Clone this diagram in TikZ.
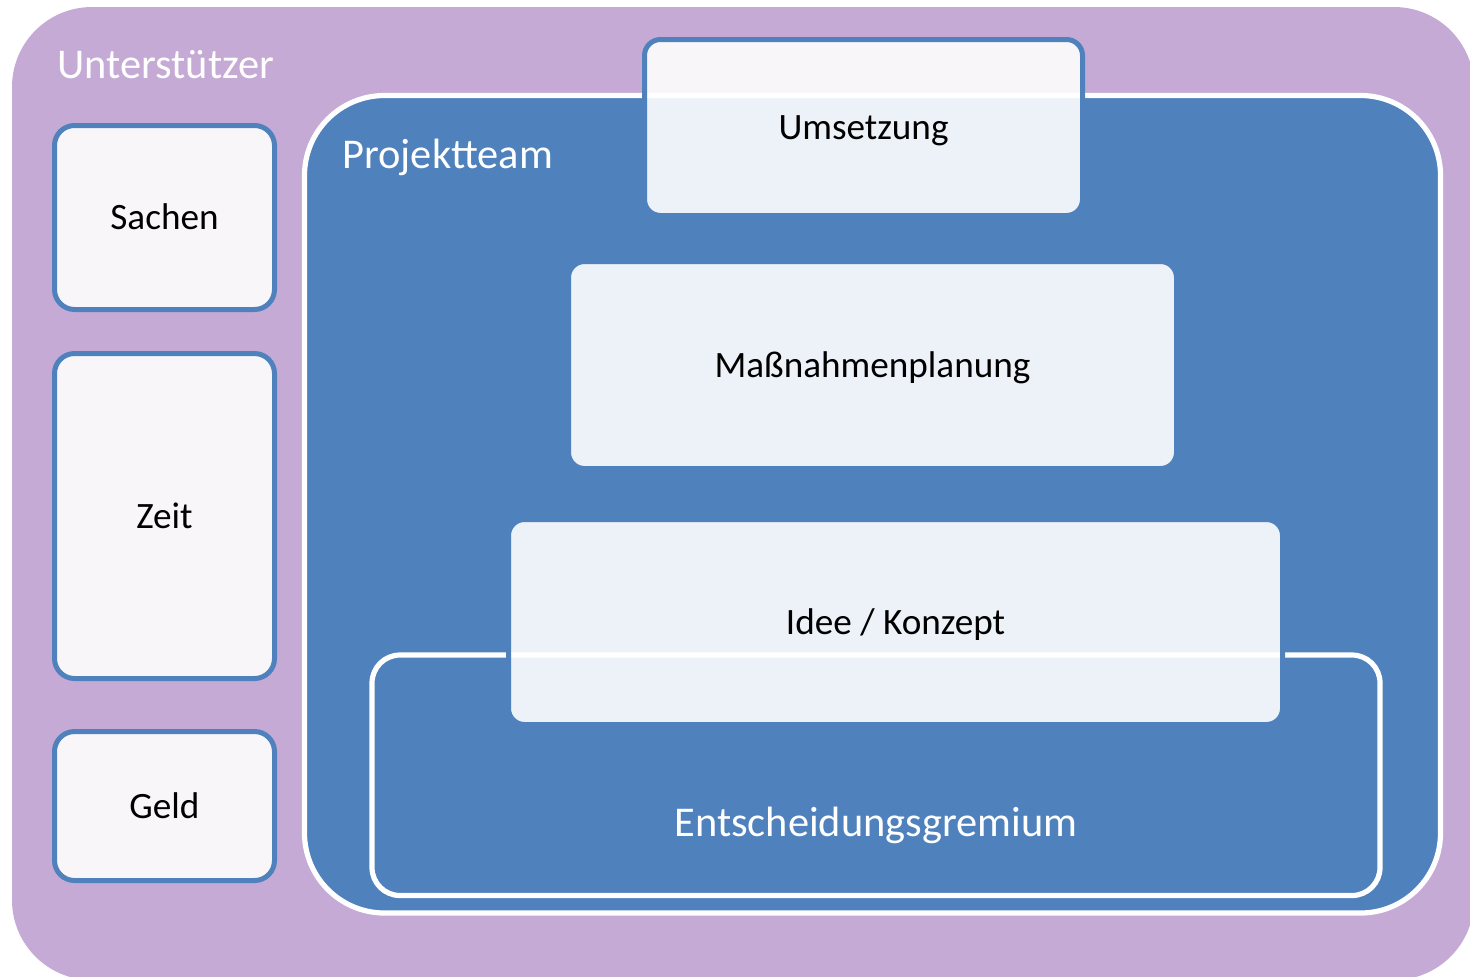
\documentclass[tikz,border=0pt]{standalone}
\usepackage{fontspec}
\setmainfont{Carlito}
\definecolor{supporter}{RGB}{197,170,214}
\definecolor{teamblue}{RGB}{79,129,189}
\newcommand{\labelfont}{\fontsize{18.6}{22}\selectfont}
\newcommand{\titlefont}{\fontsize{21.2}{25}\selectfont}
\begin{document}
\begin{tikzpicture}[x=0.5pt,y=-0.5pt,
  panel/.style={draw=teamblue, line width=2.5pt, fill=white, fill opacity=0.9,
    text opacity=1, rounded corners=8pt, inner sep=0pt,
    text height=12pt, text depth=0pt, font=\labelfont, text=black},
  sidepanel/.style={panel, rounded corners=10pt, minimum width=110pt},
  frame/.style={draw=white, line width=2.6pt, inner sep=0pt},
  title/.style={text=white, font=\titlefont, inner sep=0pt, anchor=base west}]
  \clip (0,0) rectangle (1470,976);

  % supporters area
  \fill[supporter, rounded corners=40pt] (12,7) rectangle (1474,980);
  \node[title] (unterstuetzer) at (57,78) {Unterstützer};

  % project team area
  \node[frame, fill=teamblue, rounded corners=40pt,
        minimum width=568pt, minimum height=408.75pt] (team) at (872.5,504.25) {};
  \node[title] (projektteam) at (342,168) {Projektteam};

  % decision board frame
  \node[frame, rounded corners=14pt,
        minimum width=504pt, minimum height=120.25pt] (gremium) at (876,775.25) {};
  \node[title, anchor=base] (gremiumlabel) at (876,836) {Entscheidungsgremium};

  % project stages
  \node[panel, minimum width=219pt, minimum height=88pt] (umsetzung) at (863.5,127.5) {Umsetzung};
  \node[panel, minimum width=304pt, minimum height=103.5pt] (planung) at (872.5,365) {Maßnahmenplanung};
  \node[panel, minimum width=387pt, minimum height=102.5pt] (idee) at (895.5,622) {Idee / Konzept};

  % resources
  \node[sidepanel, minimum height=92pt] (sachen) at (164.5,217.5) {Sachen};
  \node[sidepanel, minimum height=162.5pt] (zeit) at (164.5,516) {Zeit};
  \node[sidepanel, minimum height=74.5pt] (geld) at (164.5,806) {Geld};
\end{tikzpicture}
\end{document}
